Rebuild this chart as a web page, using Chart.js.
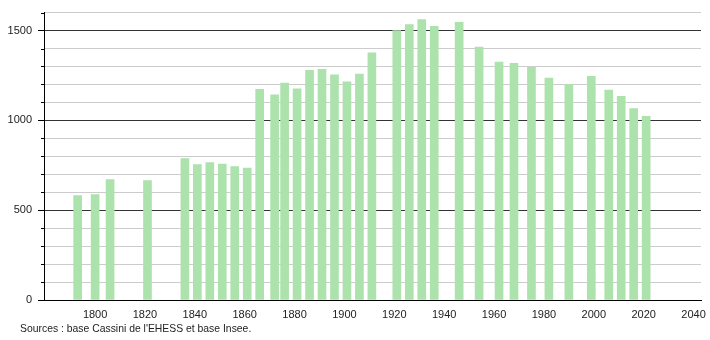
<!DOCTYPE html>
<html>
<head>
<meta charset="utf-8">
<script src="https://cdn.jsdelivr.net/npm/chart.js@4"></script>
<style>
    body { margin: 0; background: #fff; }
    #wrap { position: relative; width: 710px; height: 340px; }
    #source {
        position: absolute; left: 20px; top: 323px;
        font: 10.4px "Liberation Sans", Arial, sans-serif; color: #222;
    }
</style>
</head>
<body>
<div id="wrap">
    <canvas id="popChart" width="710" height="340"></canvas>
    <div id="source">Sources : base Cassini de l'EHESS et base Insee.</div>
</div>
<script>
// census years and population
const years = [1793, 1800, 1806, 1821, 1836, 1841, 1846, 1851, 1856, 1861,
    1866, 1872, 1876, 1881, 1886, 1891, 1896, 1901, 1906, 1911,
    1921, 1926, 1931, 1936, 1946, 1954, 1962, 1968, 1975, 1982,
    1990, 1999, 2006, 2011, 2016, 2021];
const population = [582, 587, 671, 665, 787, 754, 765, 756, 743, 735,
    1173, 1142, 1208, 1175, 1278, 1284, 1253, 1214, 1258, 1376,
    1500, 1533, 1561, 1524, 1546, 1408, 1325, 1317, 1295, 1236,
    1201, 1245, 1169, 1134, 1066, 1023];
const xTicks = [1800, 1820, 1840, 1860, 1880, 1900, 1920, 1940, 1960, 1980, 2000, 2020, 2040];
const yLabels = [0, 500, 1000, 1500];

const font = { family: '"Liberation Sans", Arial, sans-serif', size: 11 };

// short ticks for the minor (100) steps on the y axis
const minorTicks = {
    id: 'minorTicks',
    afterDraw(chart) {
        const y = chart.scales.y;
        const ctx = chart.ctx;
        ctx.save();
        ctx.strokeStyle = '#000';
        ctx.lineWidth = 1;
        y.ticks.forEach(t => {
            if (t.value % 500 === 0) return;
            const py = Math.round(y.getPixelForValue(t.value)) + 0.5;
            ctx.beginPath();
            ctx.moveTo(y.right - 3, py);
            ctx.lineTo(y.right, py);
            ctx.stroke();
        });
        ctx.restore();
    }
};

new Chart(document.getElementById('popChart'), {
    type: 'bar',
    data: {
        datasets: [{
            data: years.map((yr, i) => ({ x: yr, y: population[i] })),
            backgroundColor: 'rgb(172, 226, 172)',
            borderWidth: 0,
            barThickness: 8
        }]
    },
    options: {
        responsive: false,
        animation: false,
        layout: { padding: { top: 10, right: 9, bottom: 20, left: 0 } },
        plugins: { legend: { display: false }, tooltip: { enabled: false } },
        scales: {
            x: {
                type: 'linear',
                offset: false,
                min: 1779.5,
                max: 2043,
                afterBuildTicks: s => { s.ticks = xTicks.map(v => ({ value: v })); },
                afterFit: s => { s.height = 20; s.paddingLeft = 0; s.paddingRight = 0; },
                grid: { display: false, drawTicks: false, offset: false },
                border: { color: '#000', width: 1 },
                ticks: {
                    color: '#222', font: font, padding: 8, maxRotation: 0, autoSkip: false,
                    callback: v => String(v)
                }
            },
            y: {
                min: 0,
                max: 1600,
                afterFit: s => { s.width = 44; },
                grid: {
                    color: c => (c.tick && c.tick.value % 500 === 0 && c.tick.value > 0) ? '#333' : '#ccc',
                    tickColor: c => (c.tick && c.tick.value % 500 === 0) ? '#000' : 'rgba(0,0,0,0)',
                    tickLength: 6
                },
                border: { color: '#000', width: 1 },
                ticks: {
                    stepSize: 100,
                    color: '#222',
                    font: font,
                    padding: 6,
                    autoSkip: false,
                    callback: v => yLabels.includes(v) ? String(v) : ''
                }
            }
        }
    },
    plugins: [minorTicks]
});
</script>
</body>
</html>
